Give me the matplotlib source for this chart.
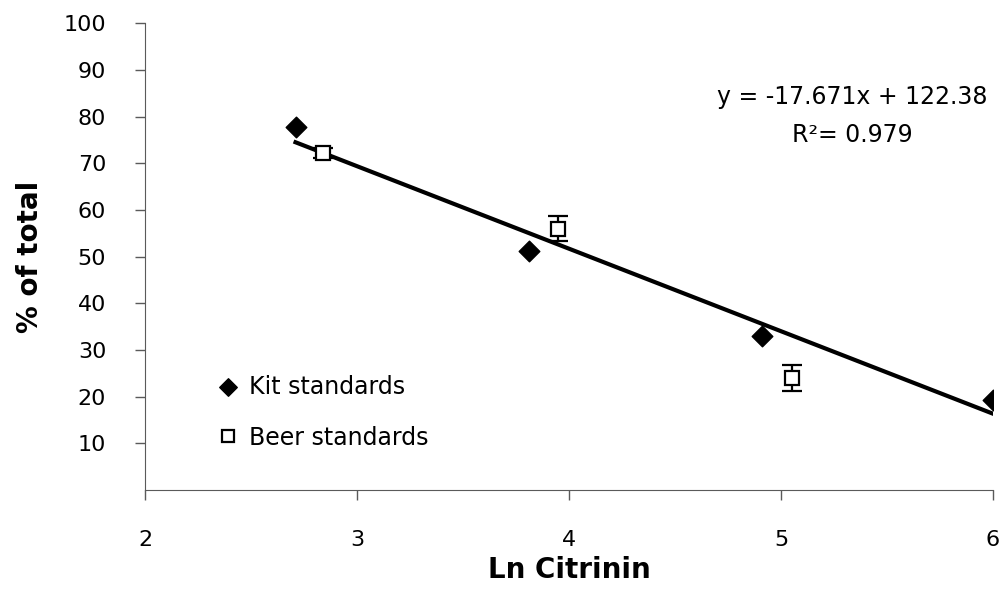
import matplotlib.pyplot as plt
import numpy as np

# Data
kit_x = [2.71, 3.81, 4.91, 6.0]
kit_y = [77.8, 51.1, 33.0, 19.3]
beer_x = [2.84, 3.95, 5.05]
beer_y = [72.2, 56.0, 24.0]
beer_err = [1.0, 2.7, 2.8]
slope, intercept = -17.671, 122.38

axis_grey = '#5a5a5a'

fig = plt.figure(figsize=(10.05, 5.94), dpi=100)
ax = fig.add_axes([0.1443, 0.175, 0.8437, 0.786])

# Trend line over the range of the kit standards
line_x = np.array([min(kit_x), max(kit_x)])
ax.plot(line_x, slope * line_x + intercept, color='black', linewidth=3, zorder=2)

ax.scatter(kit_x, kit_y, marker='D', s=110, color='black', zorder=3, label='Kit standards')
ax.errorbar(beer_x, beer_y, yerr=beer_err, fmt='s', markersize=10, markerfacecolor='white',
            markeredgecolor='black', markeredgewidth=1.6, ecolor='black', elinewidth=1.6,
            capsize=7, capthick=1.6, zorder=4, label='Beer standards')

ax.set_xlim(2, 6)
ax.set_ylim(0, 100)
ax.set_xticks([2, 3, 4, 5, 6])
ax.set_yticks(range(10, 101, 10))
ax.tick_params(direction='out', length=7, width=1, labelsize=16, color=axis_grey)
ax.tick_params(axis='x', pad=22)
ax.tick_params(axis='y', pad=21)
for side in ['top', 'right']:
    ax.spines[side].set_visible(False)
for side in ['left', 'bottom']:
    ax.spines[side].set_color(axis_grey)

ax.set_xlabel('Ln Citrinin', fontsize=20, fontweight='bold', labelpad=4)
ax.set_ylabel('% of total', fontsize=20, fontweight='bold', labelpad=14)

ax.text(5.335, 84.2, 'y = -17.671x + 122.38', ha='center', va='center', fontsize=17)
ax.text(5.335, 76.1, 'R²= 0.979', ha='center', va='center', fontsize=17)

handles, labels = ax.get_legend_handles_labels()
ax.legend([handles[0], handles[1][0]], labels, loc='center left', bbox_to_anchor=(0.073, 0.167),
          frameon=False, fontsize=17, handletextpad=0.4, labelspacing=1.15, markerscale=0.85,
          handlelength=1.0, borderaxespad=0)

fig.savefig('out.png', dpi=100)
